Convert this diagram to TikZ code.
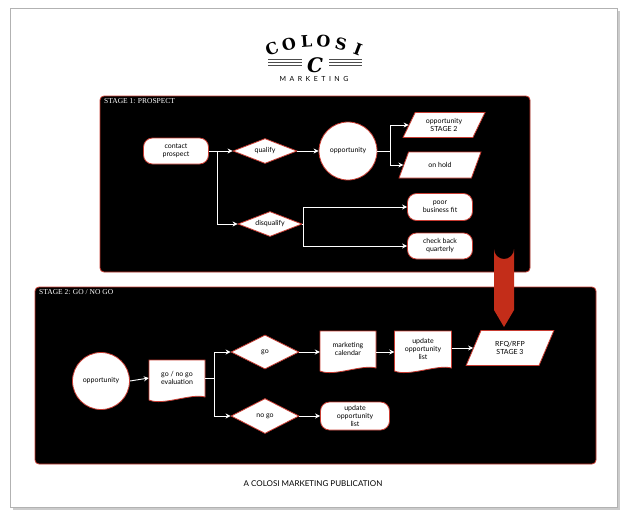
\documentclass[tikz,border=0pt]{standalone}
\usepackage{fontspec}
\setmainfont{Lato}
\newfontfamily\serifx{Liberation Serif}
\newfontfamily\logofont{DejaVu Serif}
\usetikzlibrary{shapes.geometric,arrows.meta}
\definecolor{rimred}{RGB}{200,60,50}
\definecolor{bigred}{RGB}{195,45,25}
\tikzset{
 base/.style={fill=white,draw=rimred,line width=0.8pt,font=\fontsize{7}{8}\selectfont,align=center,text=black,inner sep=1pt},
 roundbox/.style={base,rounded corners=9pt,minimum width=#1,minimum height=26pt},
 dia/.style={base,diamond,aspect=2.6,minimum width=64pt,minimum height=25pt,inner sep=0pt},
 circ/.style={base,circle,minimum size=#1},
 para/.style={base,trapezium,trapezium left angle=62,trapezium right angle=118,trapezium stretches=true,minimum width=#1,minimum height=26pt},
 docx/.style={font=\fontsize{7}{8}\selectfont,align=center,text=black,inner sep=0pt},
 con/.style={draw=white,line width=0.9pt,-{Stealth[length=5pt,width=5pt]}},
 stagebox/.style={fill=black,draw=rimred,line width=0.8pt,rounded corners=4pt},
 stagetitle/.style={text=white,font=\serifx\fontsize{7.5}{8}\selectfont,anchor=north west,inner sep=0pt}
}
\newcommand{\docshape}[6]{% name, cx, cy, w, h, text
 \fill[white,draw=rimred,line width=0.8pt] ({#2-#4/2},{#3-#5/2}) -- ({#2+#4/2},{#3-#5/2}) -- ({#2+#4/2},{#3+#5/2-3})
   .. controls ({#2+#4/4},{#3+#5/2-7}) and ({#2-#4/4},{#3+#5/2+6}) .. ({#2-#4/2},{#3+#5/2}) -- cycle;
 \node[docx,minimum width=#4,minimum height=#5-4] (#1) at (#2,{#3-2}) {#6};}
\begin{document}
\begin{tikzpicture}[x=1pt,y=-1pt]
\useasboundingbox (0,0) rectangle (628,520);
\fill[white] (0,0) rectangle (628,520);
\fill[gray!40] (13,11) rectangle (620,510);
\fill[white,draw=gray!60,line width=0.6pt] (10,8) rectangle (617,507);
% logo
\foreach \ch/\ang in {C/111,O/102.5,L/94,O/86,S/77.5,I/69}{
  \node[font=\logofont\bfseries\fontsize{16}{16}\selectfont,rotate=\ang-90,inner sep=0pt] at ({315+120*cos(\ang)},{161-120*sin(\ang)}) {\ch};}
\node[font=\logofont\bfseries\itshape\fontsize{20}{20}\selectfont,inner sep=0pt] (bigc) at (315,65) {C};
\foreach \yy in {59,62,65}{
  \draw[black!70,line width=0.5pt] (268,\yy) -- (302,\yy);
  \draw[black!70,line width=0.5pt] (329,\yy) -- (362,\yy);}
\node[font=\fontsize{7}{8}\selectfont,inner sep=0pt] (mkt) at (314,79) {M\,\,\,A\,\,\,R\,\,\,K\,\,\,E\,\,\,T\,\,\,I\,\,\,N\,\,\,G};
% stage 1
\draw[stagebox] (100,96) rectangle (530,272);
\node[stagetitle] (s1) at (104,98) {STAGE 1: PROSPECT};
\node[roundbox=65pt] (contact) at (176,151) {contact\\prospect};
\node[dia] (qual) at (265,151) {qualify};
\node[circ=58pt] (opp1) at (348,151) {opportunity};
\node[para=82pt,minimum height=25pt] (st2) at (444,125) {opportunity\\STAGE 2};
\node[para=82pt] (hold) at (440,165) {on hold};
\node[dia] (disq) at (270,224) {disqualify};
\node[roundbox=65pt,minimum height=27pt] (poor) at (440,207) {poor\\business fit};
\node[roundbox=65pt] (check) at (440,246) {check back\\quarterly};
\draw[con] (contact.east) -- (qual.west);
\draw[con] (contact.east) -- ++(9,0) |- (disq.west);
\draw[con] (qual.east) -- (opp1.west);
\draw[con] (opp1.east) -- ++(13,0) |- (st2.west);
\draw[con] (opp1.east) -- ++(13,0) |- (hold.west);
\draw[con] (disq.east) -- ++(1,0) |- (poor.west);
\draw[con] (disq.east) -- ++(1,0) |- (check.west);
% stage 2
\draw[stagebox] (35,287) rectangle (596,464);
\node[stagetitle] (s2) at (39,289) {STAGE 2: GO / NO GO};
\node[circ=57pt] (opp2) at (101,381) {opportunity};
\docshape{eval}{177}{380}{56}{40}{go / no go\\evaluation}
\node[dia,minimum width=68pt,minimum height=34pt] (go) at (265,352) {go};
\node[dia,minimum width=68pt,minimum height=35pt] (nogo) at (265,416) {no go};
\docshape{cal}{348}{351}{56}{40}{marketing\\calendar}
\docshape{upd}{423}{351}{57}{40}{update\\opportunity\\list}
\node[para=88pt,minimum height=35pt] (rfq) at (510,348) {RFQ/RFP\\STAGE 3};
\node[roundbox=69pt,minimum height=28pt] (upd2) at (355,416) {update\\opportunity\\list};
\draw[con] (opp2.east) -- (eval.west);
\draw[con] (eval.east) -- ++(9,0) |- (go.west);
\draw[con] (eval.east) -- ++(9,0) |- (nogo.west);
\draw[con] (go.east) -- (cal.west |- go.east);
\draw[con] (cal.east |- go.east) -- (upd.west |- go.east);
\draw[con] (upd.east |- rfq.west) -- (rfq.west);
\draw[con] (nogo.east) -- (upd2.west);
% big arrow
\fill[bigred] (494,310) -- (494,249) arc (180:0:10) -- (514,310) -- (504,327) -- cycle;
\node[font=\fontsize{8}{9}\selectfont,inner sep=0pt] (cap) at (313,484) {A COLOSI MARKETING PUBLICATION};
\end{tikzpicture}
\end{document}
